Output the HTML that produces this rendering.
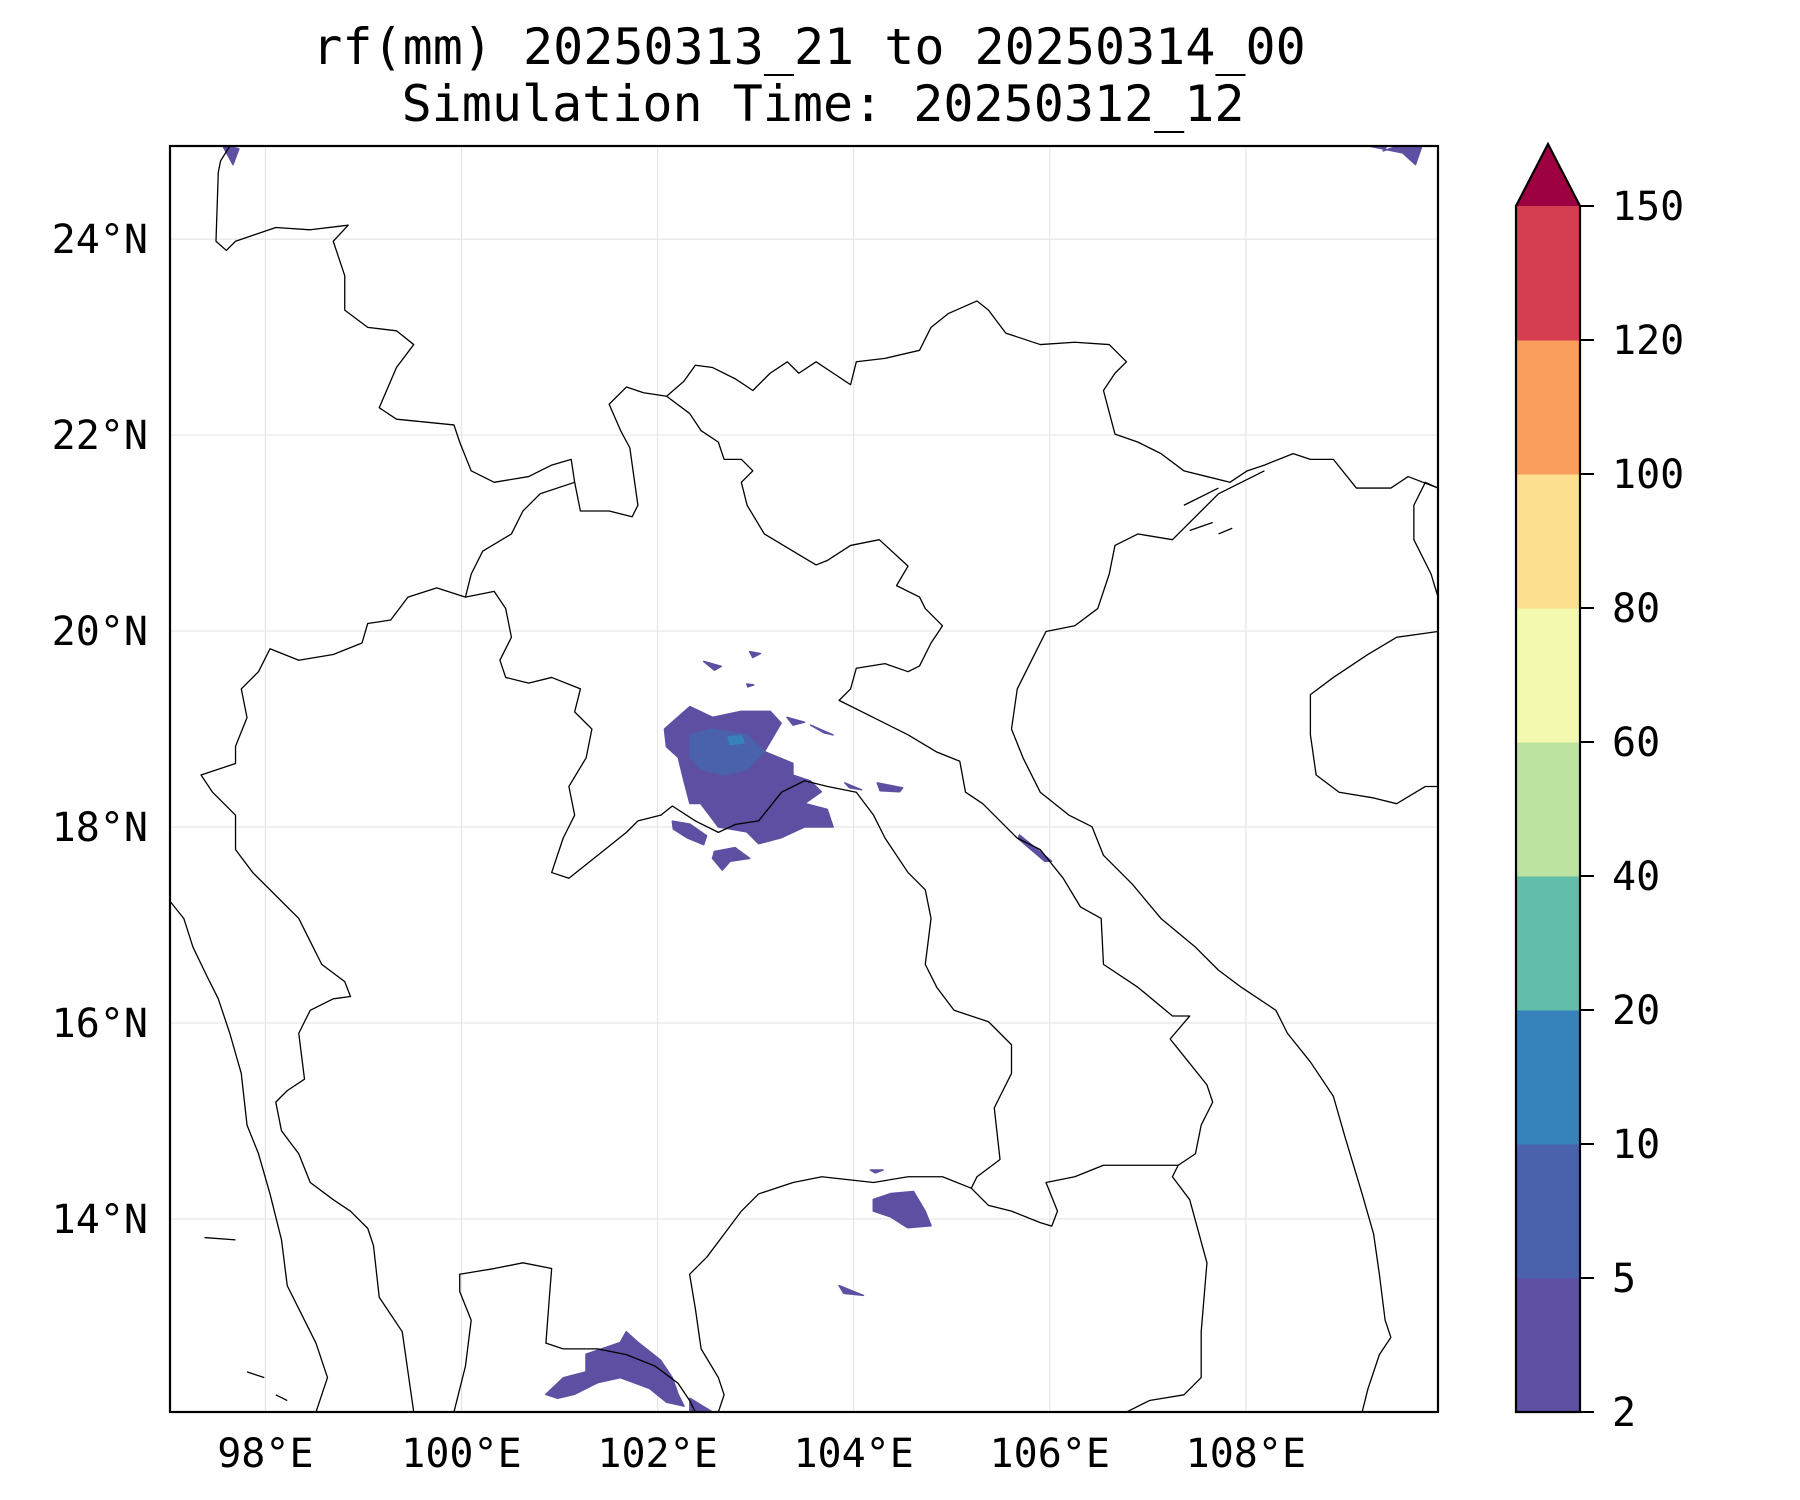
<!DOCTYPE html>
<html><head><meta charset="utf-8"><style>
body{margin:0;background:#fff}
svg{display:block}
text{font-family:"DejaVu Sans Mono","Liberation Mono",monospace;fill:#000}
</style></head><body>
<svg id="fig" width="1800" height="1500" xmlns="http://www.w3.org/2000/svg">
<rect width="1800" height="1500" fill="#fff"/>
<text x="809" y="64" font-size="50" text-anchor="middle">rf(mm) 20250313_21 to 20250314_00</text>
<text x="823" y="121" font-size="50" text-anchor="middle">Simulation Time: 20250312_12</text>
<defs><clipPath id="axclip"><rect x="170" y="146" width="1268" height="1266"/></clipPath></defs>
<g id="grid"></g>
<g id="rain" clip-path="url(#axclip)"></g>
<g clip-path="url(#axclip)">
<g transform="matrix(1.1496 0 0 1.1478 -0.14 0.23)" fill="none" stroke="#000" stroke-width="1.3" stroke-linejoin="round">
<path vector-effect="non-scaling-stroke" d="M200,127 L192,140 L190,150 L188,210 L197,218 L205,210 L240,198 L270,200 L303,196 L290,210 L300,240 L300,270 L320,285 L345,288 L360,300 L345,320 L330,355 L345,365 L395,370 L400,385 L410,410 L430,420 L460,415 L480,405 L497,400 L500,420 L505,445 L530,445 L550,450 L555,440 L548,390 L540,375 L530,352 L545,337 L560,342 L580,345 L595,332 L605,318 L620,320 L640,330 L655,340 L670,325 L685,315 L695,325 L710,315 L725,325 L740,335 L745,315 L770,312 L800,305 L810,285 L825,273 L850,262 L860,270 L875,290 L905,300 L935,298 L965,300 L980,315 L970,325 L960,340 L970,378 L990,385 L1010,395 L1030,410 L1050,415 L1070,420 L1085,410 L1100,405"/>
<path vector-effect="non-scaling-stroke" d="M580,345 L600,360 L610,375 L625,385 L630,400 L645,400 L655,410 L645,420 L650,440 L665,465 L690,480 L710,492 L720,488 L740,475 L765,470 L790,493 L780,510 L800,520 L805,530 L820,545 L810,560 L800,580 L790,585 L770,578 L745,582 L740,600 L730,610 L760,625 L790,640 L815,655 L835,663 L840,690 L855,700 L870,715 L885,730 L905,740 L925,765 L940,790 L958,800 L960,840 L990,860 L1020,885 L1035,885 L1018,905 L1030,920 L1050,945 L1055,960 L1045,980 L1040,1005 L1025,1015 L1000,1015 L960,1015 L935,1025 L910,1030 L920,1055 L915,1068 L905,1065 L880,1055 L860,1050 L845,1035"/>
<path vector-effect="non-scaling-stroke" d="M500,420 L470,430 L455,445 L445,465 L420,480 L410,500 L405,520 L380,512 L355,520 L340,540 L320,543 L315,560 L290,570 L260,575 L235,565 L225,585 L210,600 L215,625 L205,650 L205,665 L175,675 L185,690 L205,710 L205,740 L220,760 L240,780 L260,800 L270,820 L280,840 L300,855 L305,868 L290,870 L270,880 L260,900 L265,940 L250,950 L240,960 L245,985 L260,1005 L270,1030 L290,1045 L305,1055 L320,1070 L325,1085 L330,1130 L350,1160 L360,1230"/>
<path vector-effect="non-scaling-stroke" d="M405,520 L430,515 L440,530 L445,555 L435,575 L440,590 L460,595 L480,590 L505,600 L500,620 L515,635 L510,660 L495,685 L500,710 L490,730 L480,760 L495,765 L520,745 L545,725 L555,715 L575,710 L585,702 L605,715 L625,725 L640,718 L660,715 L680,690 L700,680 L720,685 L745,690 L760,710 L770,730 L790,760 L805,775 L810,800 L805,840 L815,860 L830,880 L860,890 L880,910 L880,935 L865,965 L870,1010 L850,1025 L845,1035 L820,1025 L790,1025 L760,1030 L715,1025 L690,1030 L660,1040 L645,1055 L630,1075 L615,1095 L600,1110 L605,1140 L610,1175 L625,1200 L630,1215 L625,1230"/>
<path vector-effect="non-scaling-stroke" d="M1025,1015 L1020,1025 L1035,1045 L1050,1100 L1045,1160 L1045,1200 L1030,1215 L1000,1220 L980,1230"/>
<path vector-effect="non-scaling-stroke" d="M1100,405 L1125,395 L1140,400 L1160,400 L1180,425 L1210,425 L1225,415 L1251,425"/>
<path vector-effect="non-scaling-stroke" d="M1100,410 L1060,430 L1020,470 L990,465 L970,475 L965,500 L955,530 L935,545 L910,550 L900,570 L885,600 L880,635 L890,660 L905,690 L930,710 L950,720 L960,745 L985,770 L1010,800 L1040,825 L1060,845 L1080,860 L1110,880 L1120,900 L1140,925 L1160,955 L1170,990 L1185,1040 L1195,1075 L1200,1110 L1205,1150 L1210,1165 L1200,1180 L1190,1210 L1185,1230"/>
<path vector-effect="non-scaling-stroke" d="M1251,550 L1215,555 L1190,570 L1160,590 L1140,605 L1140,640 L1145,675 L1165,690 L1195,695 L1215,700 L1240,685 L1251,685"/>
<path vector-effect="non-scaling-stroke" d="M1251,425 L1240,420 L1230,440 L1230,470 L1245,500 L1251,520"/>
<path vector-effect="non-scaling-stroke" d="M148,785 L160,800 L168,825 L180,850 L190,870 L200,900 L210,935 L215,980 L225,1005 L235,1040 L245,1080 L250,1120 L260,1140 L275,1170 L285,1200 L275,1230"/>
<path vector-effect="non-scaling-stroke" d="M395,1230 L405,1190 L410,1150 L400,1125 L400,1110 L430,1105 L455,1100 L480,1105 L478,1130 L475,1170 L490,1175 L520,1175 L545,1180 L570,1190 L590,1205 L600,1220 L605,1230"/>
<path vector-effect="non-scaling-stroke" d="M1030,440 L1060,425 M1035,462 L1055,455 M1060,465 L1072,460 M178,1078 L205,1080 M215,1195 L230,1200 M240,1215 L250,1220"/>
</g></g>
<rect x="170" y="146" width="1268" height="1266" fill="none" stroke="#000" stroke-width="2.2"/>
<g id="ticks"></g>
<g id="cbar"></g>
</svg>
<script>
const NS="http://www.w3.org/2000/svg";
// map extents & data
const lonTicks=[98,100,102,104,106,108];
const latTicks=[14,16,18,20,22,24];
const cbarBounds=[2,5,10,20,40,60,80,100,120,150];
const cbarColors=["#5e4fa2","#4a62ab","#3782ba","#62bea8","#bde3a0","#f3faaf","#fce08f","#f99d5c","#d53e50"];
const extendColor="#9e0142";
// rainfall contour polygons: [lon,lat] rings and their rainfall values (mm)
const rainValues=[3,7,12,3,3,3,3,3,3,3,3,3,3,3,3,3,3,3,3,3];
const rainRings=[
[[102.07,19.0],[102.33,19.23],[102.56,19.12],[102.85,19.18],[103.15,19.18],[103.26,19.06],[103.09,18.77],[103.38,18.65],[103.38,18.53],[103.56,18.47],[103.67,18.36],[103.5,18.24],[103.73,18.18],[103.79,18.0],[103.5,18.0],[103.26,17.89],[103.03,17.83],[102.91,17.95],[102.62,18.0],[102.44,18.24],[102.33,18.24],[102.27,18.47],[102.21,18.71],[102.09,18.82]],
[[102.33,18.94],[102.56,19.0],[102.91,18.94],[103.09,18.77],[102.91,18.59],[102.68,18.53],[102.44,18.59],[102.33,18.71]],
[[102.72,18.92],[102.86,18.93],[102.88,18.86],[102.74,18.84]],
[[102.15,18.06],[102.33,18.03],[102.5,17.91],[102.47,17.82],[102.3,17.89],[102.16,17.98]],
[[102.58,17.75],[102.79,17.79],[102.94,17.68],[102.74,17.65],[102.66,17.56],[102.56,17.68]],
[[102.47,19.69],[102.65,19.64],[102.58,19.6]],
[[102.94,19.79],[103.05,19.77],[102.97,19.73]],
[[102.91,19.46],[102.98,19.45],[102.92,19.43]],
[[103.32,19.12],[103.5,19.07],[103.38,19.04]],
[[103.56,19.04],[103.79,18.94],[103.7,18.96]],
[[103.91,18.45],[104.08,18.38],[103.96,18.4]],
[[104.24,18.45],[104.5,18.4],[104.47,18.36],[104.27,18.37]],
[[105.69,17.92],[105.9,17.75],[106.02,17.65],[105.95,17.65],[105.75,17.82],[105.68,17.88]],
[[104.2,14.2],[104.38,14.26],[104.61,14.28],[104.73,14.08],[104.79,13.93],[104.55,13.91],[104.38,14.02],[104.2,14.08]],
[[104.17,14.5],[104.3,14.5],[104.22,14.47]],
[[103.85,13.32],[104.1,13.22],[103.9,13.24]],
[[100.86,12.21],[101.04,12.38],[101.27,12.44],[101.27,12.62],[101.62,12.74],[101.68,12.85],[101.8,12.74],[102.03,12.56],[102.15,12.38],[102.21,12.21],[102.27,12.09],[102.09,12.13],[101.92,12.27],[101.62,12.38],[101.39,12.33],[101.15,12.21],[100.98,12.17]],
[[102.33,12.17],[102.56,12.03],[102.33,12.02]],
[[97.56,24.96],[97.73,24.92],[97.67,24.76]],
[[109.2,24.96],[109.45,24.96],[109.4,24.9],[109.59,24.96],[109.8,24.96],[109.73,24.76],[109.6,24.88]]
];
const LON0=97.027,LON1=109.96,LAT0=12.03,LAT1=24.95;
const AX={x:170,y:146,w:1268,h:1266};
function lonX(l){return AX.x+(l-LON0)/(LON1-LON0)*AX.w;}
function latY(l){return AX.y+(LAT1-l)/(LAT1-LAT0)*AX.h;}
function colorFor(v){for(let i=0;i<cbarColors.length;i++){if(v<cbarBounds[i+1])return cbarColors[i];}return extendColor;}
function mk(tag,attrs,parent){const e=document.createElementNS(NS,tag);for(const k in attrs)e.setAttribute(k,attrs[k]);parent.appendChild(e);return e;}
const grid=document.getElementById('grid'),ticks=document.getElementById('ticks');
lonTicks.forEach(l=>{
 const g=mk('line',{x1:lonX(l),x2:lonX(l),y1:AX.y,y2:AX.y+AX.h,stroke:'#e6e6e6','stroke-width':1.2},grid);
 
 
 const t=mk('text',{x:lonX(l),y:1467,'font-size':40,'text-anchor':'middle'},ticks);
 t.textContent=l+'°E';
 
 
});
latTicks.forEach(l=>{
 const g=mk('line',{x1:AX.x,x2:AX.x+AX.w,y1:latY(l),y2:latY(l),stroke:'#e6e6e6','stroke-width':1.2},grid);
 
 
 const t=mk('text',{x:148,y:latY(l)+14,'font-size':40,'text-anchor':'end'},ticks);
 t.textContent=l+'°N';
 
 
});
const rain=document.getElementById('rain');
rainRings.forEach((ring,i)=>{
 const p=mk('polygon',{points:ring.map(q=>lonX(q[0]).toFixed(1)+','+latY(q[1]).toFixed(1)).join(' '),fill:colorFor(rainValues[i]),stroke:colorFor(rainValues[i]),'stroke-width':1.5,'stroke-linejoin':'round'},rain);
 
 
});
// colorbar
const cb=document.getElementById('cbar');
const CB={x:1516,w:64,top:206,bot:1412,tip:144};
const n=cbarColors.length;
const segH=(CB.bot-CB.top)/n;
cbarColors.forEach((c,i)=>{
 const r=mk('rect',{x:CB.x,y:CB.bot-(i+1)*segH,width:CB.w,height:segH+0.5,fill:c},cb);
 
 
});
const tri=mk('polygon',{points:`${CB.x},${CB.top} ${CB.x+CB.w/2},${CB.tip} ${CB.x+CB.w},${CB.top}`,fill:extendColor},cb);


const outline=mk('path',{d:`M${CB.x},${CB.bot} L${CB.x},${CB.top} L${CB.x+CB.w/2},${CB.tip} L${CB.x+CB.w},${CB.top} L${CB.x+CB.w},${CB.bot} Z`,fill:'none',stroke:'#000','stroke-width':2.2},cb);


cbarBounds.forEach((b,i)=>{
 const y=CB.bot-i*segH;
 const tl=mk('line',{x1:CB.x+CB.w,x2:CB.x+CB.w+14,y1:y,y2:y,stroke:'#000','stroke-width':2},cb);
 
 
 const t=mk('text',{x:1612,y:y+14,'font-size':40},cb);
 t.textContent=b;
 
 
});
</script>
</body></html>
